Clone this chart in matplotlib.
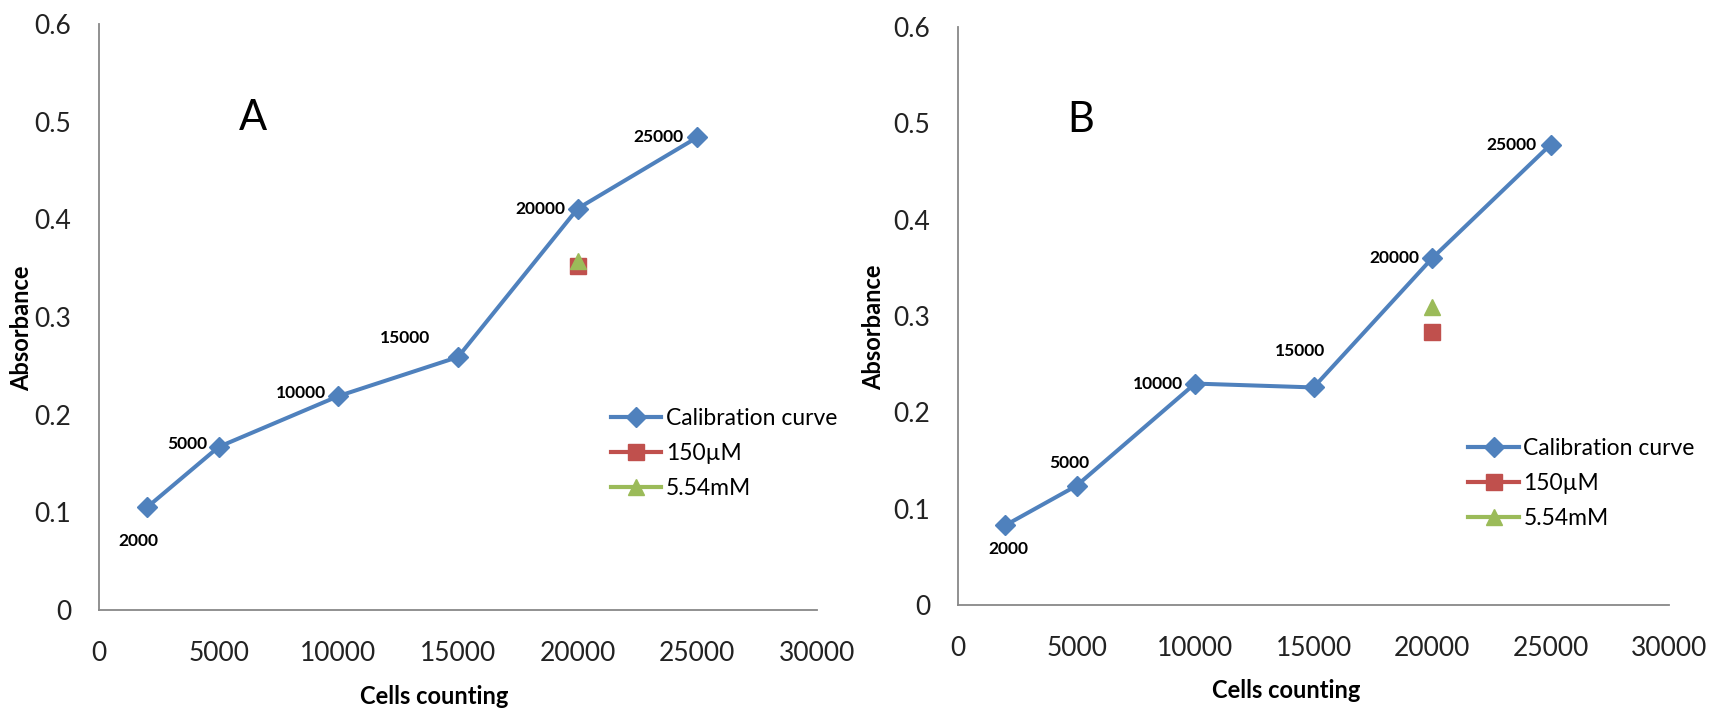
import matplotlib
matplotlib.use("Agg")
import matplotlib.pyplot as plt
from matplotlib.lines import Line2D

plt.rcParams['font.family'] = ['Lato', 'DejaVu Sans']

# cell counts of the calibration standards
cells = [2000, 5000, 10000, 15000, 20000, 25000]

# absorbance readings, panel A and panel B
absorb_a = [0.105, 0.167, 0.219, 0.259, 0.411, 0.484]
absorb_b = [0.083, 0.124, 0.230, 0.226, 0.360, 0.478]

# treated samples, both read at 20000 cells
sample_x = 20000
uM150_a, mM554_a = 0.352, 0.357
uM150_b, mM554_b = 0.284, 0.309

xticks = [0, 5000, 10000, 15000, 20000, 25000, 30000]
yticks = [0, 0.1, 0.2, 0.3, 0.4, 0.5, 0.6]

BLUE = '#4F81BD'
RED = '#C0504D'
GREEN = '#9BBB59'

fig = plt.figure(figsize=(17.35, 7.12), dpi=100)
axA = fig.add_axes([0.0571, 0.1433, 0.4138, 0.823])
axB = fig.add_axes([0.5522, 0.150, 0.4098, 0.812])

# point label offsets (points) and alignment per panel
offs_a = [((-6, -24), 'center'), ((-8, 2), 'right'), ((-9, 2), 'right'),
          ((-20, 14), 'right'), ((-9, 0), 'right'), ((-10, 0), 'right')]
offs_b = [((2, -17), 'center'), ((-5, 16), 'center'), ((-9, 0), 'right'),
          ((-10, 26), 'center'), ((-9, 0), 'right'), ((-10, 0), 'right')]


def draw_panel(ax, ys, y150, y554, letter, letter_x, offs, leg_pos, lab_x):
    ax.plot(cells, ys, color=BLUE, lw=2.9, marker='D', ms=10, mec=BLUE,
            mfc=BLUE, zorder=3)
    ax.plot([sample_x], [y150], ls='none', marker='s', ms=12, color=RED, zorder=3)
    ax.plot([sample_x], [y554], ls='none', marker='^', ms=12, color=GREEN, zorder=4)

    for x, y, (off, ha) in zip(cells, ys, offs):
        ax.annotate(str(x), (x, y), xytext=off, textcoords='offset points',
                    ha=ha, va='center', fontsize=12.5, fontweight='bold')

    ax.set_xlim(0, 30000)
    ax.set_ylim(0, 0.6)
    ax.set_xticks(xticks)
    ax.set_yticks(yticks)
    ax.set_xticklabels([str(t) for t in xticks])
    ax.set_yticklabels(['0', '0.1', '0.2', '0.3', '0.4', '0.5', '0.6'])
    ax.tick_params(length=0, labelsize=19, colors='#222222')
    ax.tick_params(axis='x', pad=22)
    ax.tick_params(axis='y', pad=20)
    for s in ['top', 'right']:
        ax.spines[s].set_visible(False)
    for s in ['left', 'bottom']:
        ax.spines[s].set_color('#888888')
        ax.spines[s].set_linewidth(1.3)

    ax.set_xlabel('Cells counting', fontsize=17, fontweight='bold')
    ax.set_ylabel('Absorbance', fontsize=17, fontweight='bold')
    ax.xaxis.set_label_coords(lab_x[0], -0.128)
    ax.yaxis.set_label_coords(lab_x[1], 0.48)
    ax.text(letter_x, 0.84, letter, transform=ax.transAxes, fontsize=30,
            ha='center', va='center')

    handles = [
        Line2D([], [], color=BLUE, lw=3, marker='D', ms=10),
        Line2D([], [], color=RED, lw=3, marker='s', ms=11),
        Line2D([], [], color=GREEN, lw=3, marker='^', ms=11),
    ]
    ax.legend(handles, ['Calibration curve', '150µM', '5.54mM'],
              loc='upper left', bbox_to_anchor=leg_pos, frameon=False,
              fontsize=16.5, handlelength=2.2, handletextpad=0.2,
              labelspacing=0.6, borderaxespad=0)


draw_panel(axA, absorb_a, uM150_a, mM554_a, 'A', 0.214, offs_a,
           (0.70, 0.36), (0.467, -0.092))
draw_panel(axB, absorb_b, uM150_b, mM554_b, 'B', 0.172, offs_b,
           (0.705, 0.305), (0.461, -0.103))

fig.savefig('out.png', dpi=100)
